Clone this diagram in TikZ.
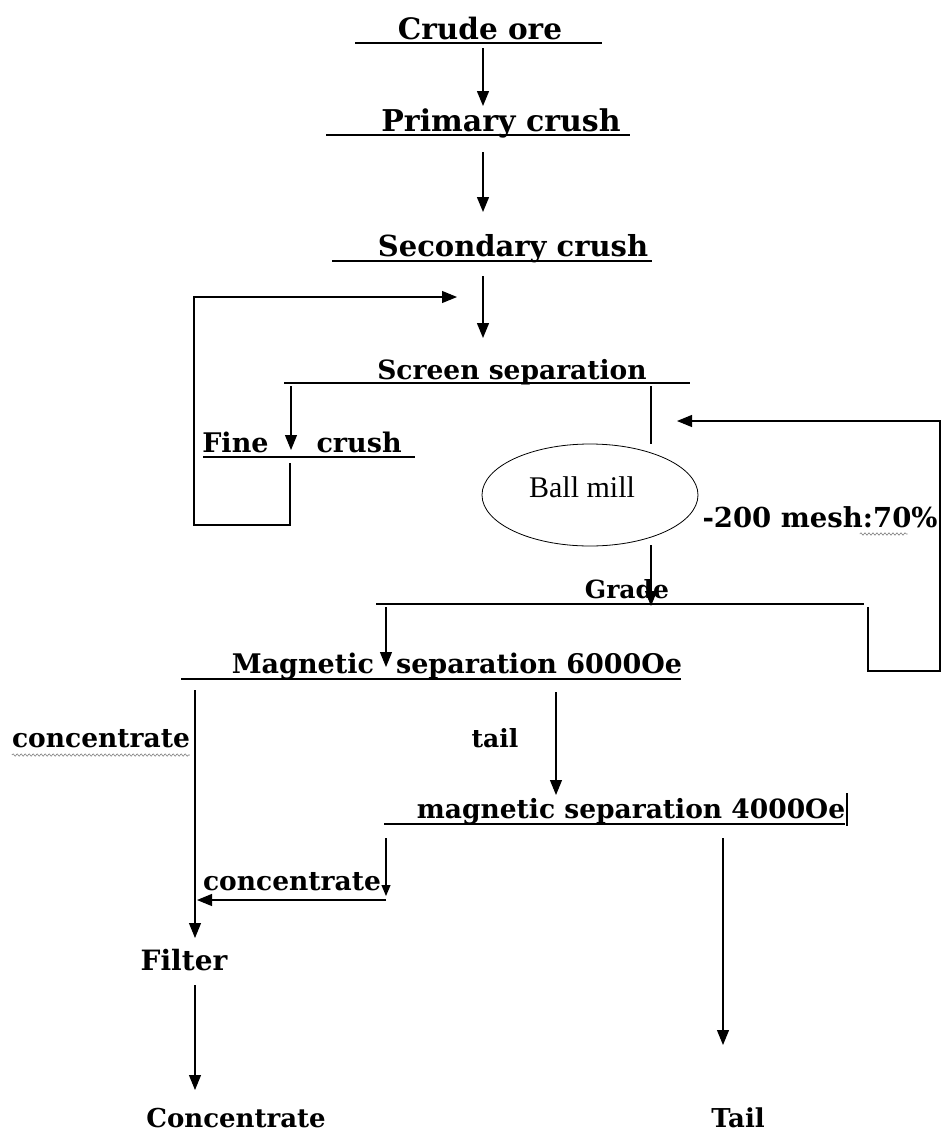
\documentclass[tikz,border=0pt]{standalone}
\usepackage{fontspec}
\setmainfont{DejaVu Serif}
\newfontfamily\millfont{Liberation Serif}
\usetikzlibrary{arrows.meta,shapes.geometric,decorations.pathmorphing}

\newcommand{\lblsize}[1]{\bfseries\fontsize{#1}{#1}\selectfont}
\tikzset{
  lbl/.style={font=\lblsize{26.5},inner sep=0pt,anchor=base},
  bar/.style={line width=2.8pt},
  flow/.style={line width=1.4pt,-{Triangle[length=15pt,width=12pt]}},
  loopline/.style={line width=1.1pt},
  spell/.style={gray,line width=0.6pt,decorate,decoration={snake,amplitude=1.2pt,segment length=4pt}}
}

\begin{document}
\begin{tikzpicture}[x=1pt,y=-1pt]
  \useasboundingbox (0,0) rectangle (942,1138);

  % stages and their bars
  \node[lbl,font=\lblsize{29.5}] (crude) at (480,39) {Crude ore};
  \coordinate (crudeL) at (355,43); \coordinate (crudeR) at (602,43);
  \node[lbl,font=\lblsize{30}] (primary) at (501,131) {Primary crush};
  \coordinate (primaryL) at (326,135); \coordinate (primaryR) at (630,135);
  \node[lbl,font=\lblsize{29}] (secondary) at (513,256) {Secondary crush};
  \coordinate (secondaryL) at (332,261); \coordinate (secondaryR) at (652,261);
  \node[lbl] (screen) at (512,379) {Screen separation};
  \coordinate (screenL) at (284,383); \coordinate (screenR) at (690,383);
  \node[lbl,font=\lblsize{27}] (fine) at (302,452) {Fine\hspace{48pt}crush};
  \coordinate (fineL) at (203,457); \coordinate (fineR) at (415,457);
  \node[lbl,font=\lblsize{25}] (grade) at (627,598) {Grade};
  \coordinate (gradeL) at (376,604); \coordinate (gradeR) at (864,604);
  \node[lbl,font=\lblsize{27}] (magsix) at (457,673) {Magnetic\hspace{22pt}separation 6000Oe};
  \coordinate (magsixL) at (181,679); \coordinate (magsixR) at (681,679);
  \node[lbl] (magfour) at (631,818) {magnetic separation 4000Oe};
  \coordinate (magfourL) at (384,824); \coordinate (magfourR) at (845,824);
  \coordinate (tickT) at (847,793); \coordinate (tickB) at (847,826);

  \foreach \s in {crude,primary,secondary,screen,fine,grade,magsix,magfour}
    \draw[bar] (\s L) -- (\s R);
  \draw[loopline] (tickT) -- (tickB);

  % ball mill
  \node[draw,ellipse,line width=0.8pt,minimum width=216pt,minimum height=102pt,inner sep=0pt] (mill) at (590,495) {};
  \node[font=\millfont\fontsize{30}{30}\selectfont,inner sep=0pt,anchor=base] (milltxt) at (582,497) {Ball mill};
  \node[lbl,font=\lblsize{27.5}] (mesh) at (820,527) {-200 mesh:70\%};

  % side and end labels
  \node[lbl] (concA) at (101,747) {concentrate};
  \node[lbl,font=\lblsize{25}] (tailA) at (495,747) {tail};
  \node[lbl] (concB) at (292,890) {concentrate};
  \node[lbl,font=\lblsize{28}] (filter) at (184,970) {Filter};
  \node[lbl,font=\lblsize{26}] (concEnd) at (236,1127) {Concentrate};
  \node[lbl,font=\lblsize{26}] (tailEnd) at (738,1127) {Tail};

  % main line
  \coordinate (a1) at (483,48);  \coordinate (b1) at (483,106);
  \coordinate (a2) at (483,152); \coordinate (b2) at (483,212);
  \coordinate (a3) at (483,276); \coordinate (b3) at (483,338);
  \draw[flow] (a1) -- (b1);
  \draw[flow] (a2) -- (b2);
  \draw[flow] (a3) -- (b3);

  % screen to fine crush, fine crush back
  \coordinate (sf1) at (291,386); \coordinate (sf2) at (291,450);
  \draw[flow,line width=1.1pt] (sf1) -- (sf2);
  \coordinate (fb1) at (290,463); \coordinate (fb2) at (194,525);
  \coordinate (fb3) at (457,297);
  \draw[flow,loopline] (fb1) |- (fb2) |- (fb3);

  % screen to ball mill, ball mill to grade
  \coordinate (sm) at (651,386);
  \draw[loopline] (sm) -- (sm |- mill.north);
  \coordinate (mg1) at (651,545); \coordinate (mg2) at (651,606);
  \draw[flow,line width=1.1pt] (mg1) -- (mg2);

  % grade return to mill
  \coordinate (gr1) at (868,607); \coordinate (gr2) at (940,671);
  \coordinate (gr3) at (677,421);
  \draw[flow,loopline] (gr1) |- (gr2) |- (gr3);

  % grade to magnetic separation
  \coordinate (gm1) at (386,607); \coordinate (gm2) at (386,667);
  \draw[flow,line width=1.1pt] (gm1) -- (gm2);

  % concentrate line to filter
  \coordinate (cf1) at (195,690); \coordinate (cf2) at (195,938);
  \draw[flow,line width=1.1pt] (cf1) -- (cf2);
  \coordinate (ct1) at (556,692); \coordinate (ct2) at (556,795);
  \draw[flow,line width=1.1pt] (ct1) -- (ct2);

  % second separation
  \coordinate (sc1) at (386,838); \coordinate (sc2) at (386,896);
  \coordinate (sc3) at (386,900); \coordinate (sc4) at (197,900);
  \draw[flow,line width=1.1pt,-{Triangle[length=11pt,width=9pt]}] (sc1) -- (sc2);
  \draw[flow,line width=1.1pt] (sc3) -- (sc4);
  \coordinate (st1) at (723,838); \coordinate (st2) at (723,1045);
  \draw[flow,line width=1.1pt] (st1) -- (st2);

  % filter to concentrate
  \coordinate (fc1) at (195,985); \coordinate (fc2) at (195,1090);
  \draw[flow,line width=1.1pt] (fc1) -- (fc2);

  % spell-check marks
  \draw[spell] (concA.base west) ++(0,8) -- ++(178,0);
  \draw[spell] (mesh.base east) ++(-78,7) -- ++(48,0);
\end{tikzpicture}
\end{document}
